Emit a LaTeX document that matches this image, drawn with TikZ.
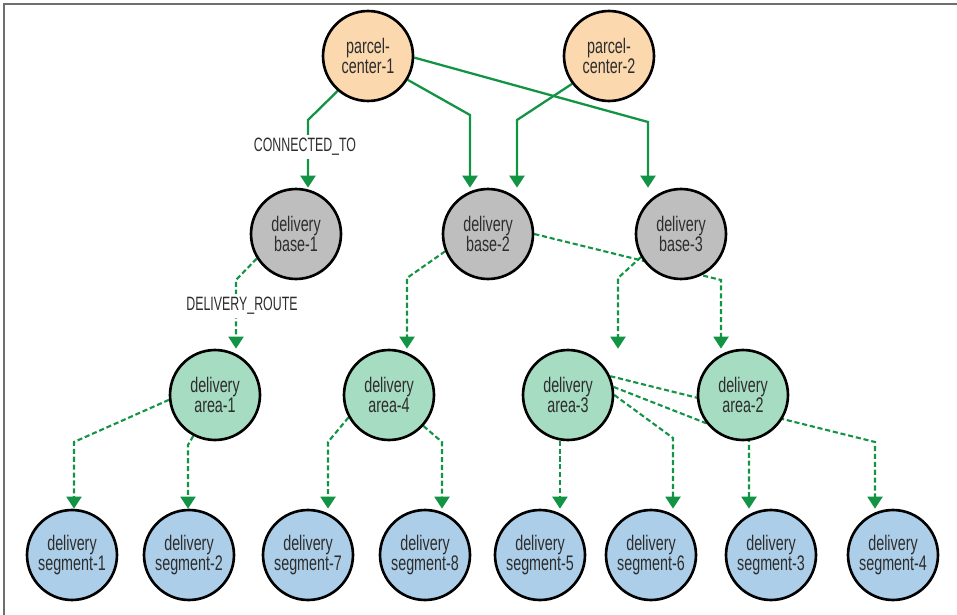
\documentclass[tikz,border=0pt]{standalone}
\usepackage{fontspec}
\setmainfont{Liberation Sans}[FakeStretch=0.68]
\newfontfamily\relfont{Liberation Sans}[FakeStretch=0.64]
\usetikzlibrary{arrows.meta,backgrounds}
\definecolor{peach}{RGB}{252,216,174}
\definecolor{basegray}{RGB}{190,190,190}
\definecolor{areagreen}{RGB}{166,220,193}
\definecolor{segblue}{RGB}{172,206,232}
\definecolor{linkgreen}{RGB}{18,148,68}
\definecolor{txtgray}{RGB}{45,45,45}
\definecolor{framegray}{RGB}{110,110,110}

\begin{document}
\begin{tikzpicture}[x=0.02cm,y=-0.02cm,
  place/.style={circle,draw=black,line width=1.5pt,minimum size=1.8cm,inner sep=0pt,
    align=center,text=txtgray,font=\fontsize{12}{11.3}\selectfont},
  center/.style={place,fill=peach},
  base/.style={place,fill=basegray},
  area/.style={place,fill=areagreen},
  segment/.style={place,fill=segblue},
  rel/.style={draw=linkgreen,line width=1.3pt,-{Triangle[length=6.8pt,width=8.5pt]}},
  route/.style={rel,line width=1.2pt,dash pattern=on 2.9pt off 1.6pt},
  relname/.style={fill=white,inner sep=2pt,text=txtgray,font=\relfont\fontsize{11}{12}\selectfont}]
\useasboundingbox (0,0) rectangle (957,615);
\draw[framegray,line width=1.2pt] (957,4) -- (4,4) -- (4,615);

\node[center] (center1) at (368,56) {parcel-\\center-1};
\node[center] (center2) at (609,56) {parcel-\\center-2};
\node[base] (base1) at (296,234) {delivery\\base-1};
\node[base] (base2) at (488,234) {delivery\\base-2};
\node[base] (base3) at (681,234) {delivery\\base-3};
\node[area] (area1) at (215,395) {delivery\\area-1};
\node[area] (area4) at (389,395) {delivery\\area-4};
\node[area] (area3) at (568,395) {delivery\\area-3};
\node[area] (area2) at (743,395) {delivery\\area-2};
\node[segment] (seg1) at (72,555) {delivery\\segment-1};
\node[segment] (seg2) at (189,555) {delivery\\segment-2};
\node[segment] (seg7) at (308,555) {delivery\\segment-7};
\node[segment] (seg8) at (425,555) {delivery\\segment-8};
\node[segment] (seg5) at (540,555) {delivery\\segment-5};
\node[segment] (seg6) at (651,555) {delivery\\segment-6};
\node[segment] (seg3) at (771,555) {delivery\\segment-3};
\node[segment] (seg4) at (893,555) {delivery\\segment-4};

\begin{scope}[on background layer]
\draw[rel] (center1.229) -- (308,120) -- (308,120 |- base1.north);
\draw[rel] (center1.329) -- (470,115) -- (470,115 |- base2.north);
\draw[rel] (center1.358) -- (648,122) -- (648,122 |- base3.north);
\draw[rel] (center2.217) -- (517,120) -- (517,120 |- base2.north);
\draw[route] (base1.212) -- (236,280) -- (236,280 |- area1.north);
\draw[route] (base2.202) -- (407,278) -- (407,278 |- area4.north);
\draw[route] (base2.0) -- (721,280) -- (721,280 |- area2.north);
\draw[route] (base3.210) -- (618,278) -- (618,278 |- area3.north);
\draw[route] (area1.186) -- (74,442) -- (74,442 |- seg1.north);
\draw[route] (area1.242) -- (188,445) -- (188,445 |- seg2.north);
\draw[route] (area4.209) -- (328,442) -- (328,442 |- seg7.north);
\draw[route] (area4.318) -- (442,442) -- (442,442 |- seg8.north);
\draw[route] (area3.260) -- (area3.260 |- seg5.north);
\draw[route] (area3.0) -- (673,438) -- (673,438 |- seg6.north);
\draw[route] (area3.10) -- (749,440) -- (749,440 |- seg3.north);
\draw[route] (area3.24) -- (875,442) -- (875,442 |- seg4.north);
\end{scope}

\node[relname] (connlbl) at (305,147) {CONNECTED\_TO};
\node[relname] (routelbl) at (242,306) {DELIVERY\_ROUTE};
\end{tikzpicture}
\end{document}
